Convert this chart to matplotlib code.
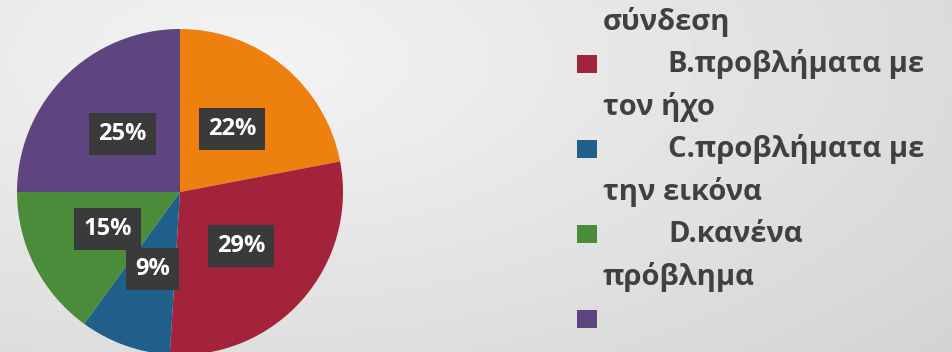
import matplotlib.pyplot as plt
import numpy as np

# data
labels = ["A.προβλήματα με τη\nσύνδεση",
          "B.προβλήματα με\nτον ήχο",
          "C.προβλήματα με\nτην εικόνα",
          "D.κανένα\nπρόβλημα",
          ""]
values = [22, 29, 9, 15, 25]
colors = ["#EE8010", "#A3243A", "#1F5F8A", "#4A8C3A", "#5F4580"]

fig = plt.figure(figsize=(9.52, 3.52), dpi=100)

# background gradient
bg = fig.add_axes([0, 0, 1, 1])
yy, xx = np.mgrid[0:352, 0:952]
d = np.sqrt(((xx - 250) / 952.0) ** 2 + ((yy - 60) / 352.0) ** 2 * 0.6)
shade = 0.955 - 0.13 * np.clip(d, 0, 1)
bg.imshow(shade, cmap="gray", vmin=0, vmax=1, aspect="auto", extent=[0, 1, 0, 1])
bg.axis("off")

# pie
ax = fig.add_axes([17 / 952, -3 / 352, 326 / 952, 326 / 352])
wedges, texts, autotexts = ax.pie(values, colors=colors, startangle=90,
                                  counterclock=False, autopct="%d%%",
                                  pctdistance=0.5,
                                  wedgeprops=dict(linewidth=0))
for t in autotexts:
    t.set_color("white")
    t.set_fontsize(17)
    t.set_fontweight("bold")
    t.set_family("Open Sans")
    t.set_bbox(dict(boxstyle="square,pad=0.38", facecolor="#3A3A3A",
                    edgecolor="none"))
ax.set_xlim(-1, 1)
ax.set_ylim(-1, 1)

# legend drawn by hand; the top of the first entry is scrolled out of view
row_h = 85 / 352
line_h = 43 / 352
y0 = 1 - 64 / 352 + row_h
for i, lab in enumerate(labels):
    y = y0 - i * row_h
    if y < 1:
        fig.patches.append(plt.Rectangle((577 / 952, y - 9 / 352), 20 / 952, 18 / 352,
                                         transform=fig.transFigure,
                                         facecolor=colors[i], edgecolor="none"))
    if not lab:
        continue
    first, second = lab.split("\n")
    if y < 1:
        fig.text(668 / 952, y, first, ha="left", va="center", fontsize=21,
                 fontweight="bold", color="#404040", family="Open Sans")
    fig.text(603 / 952, y - line_h, second, ha="left", va="center", fontsize=21,
             fontweight="bold", color="#404040", family="Open Sans")

fig.savefig("out.png", dpi=100)
